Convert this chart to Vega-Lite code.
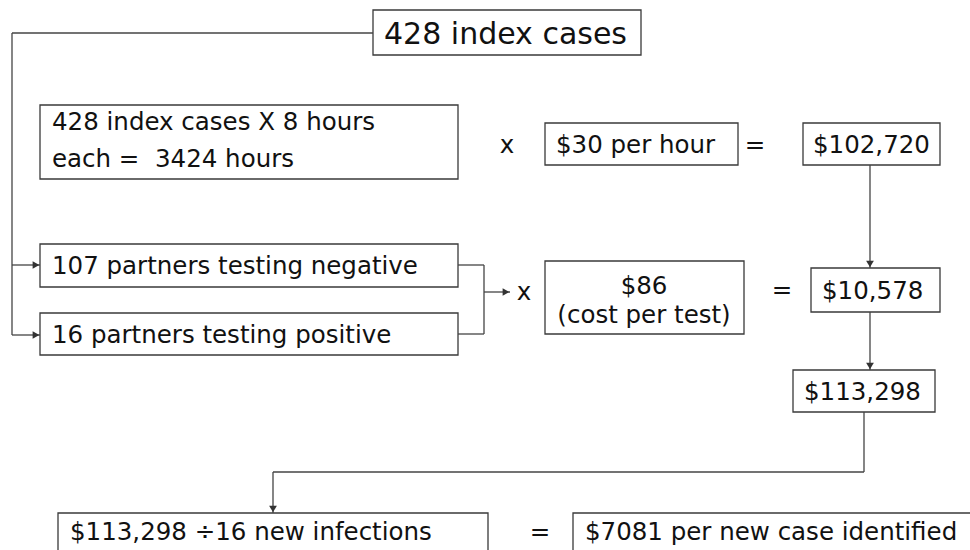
{
  "$schema": "https://vega.github.io/schema/vega-lite/v6.json",
  "width": 970,
  "height": 550,
  "padding": 0,
  "autosize": {"type": "none"},
  "background": "white",
  "config": {"view": {"stroke": null}},
  "datasets": {
    "boxes": [
      {"id": "index", "x1": 373, "x2": 641, "y1": 10, "y2": 55},
      {"id": "hours", "x1": 40, "x2": 458, "y1": 105, "y2": 179},
      {"id": "rate", "x1": 545, "x2": 738, "y1": 123, "y2": 165},
      {"id": "labour", "x1": 803, "x2": 940, "y1": 123, "y2": 165},
      {"id": "neg", "x1": 40, "x2": 458, "y1": 244, "y2": 287},
      {"id": "pos", "x1": 40, "x2": 458, "y1": 313, "y2": 355},
      {"id": "test", "x1": 545, "x2": 744, "y1": 261, "y2": 334},
      {"id": "testcost", "x1": 811, "x2": 940, "y1": 268, "y2": 312},
      {"id": "total", "x1": 793, "x2": 935, "y1": 370, "y2": 412},
      {"id": "divide", "x1": 58, "x2": 488, "y1": 513, "y2": 565},
      {"id": "result", "x1": 573, "x2": 975, "y1": 513, "y2": 565}
    ],
    "lines": [
      {"x1": 12, "y1": 33, "x2": 373, "y2": 33},
      {"x1": 12, "y1": 33, "x2": 12, "y2": 335},
      {"x1": 12, "y1": 265, "x2": 40, "y2": 265},
      {"x1": 12, "y1": 335, "x2": 40, "y2": 335},
      {"x1": 458, "y1": 265, "x2": 484, "y2": 265},
      {"x1": 484, "y1": 265, "x2": 484, "y2": 334},
      {"x1": 458, "y1": 334, "x2": 484, "y2": 334},
      {"x1": 484, "y1": 292, "x2": 510, "y2": 292},
      {"x1": 870, "y1": 165, "x2": 870, "y2": 268},
      {"x1": 870, "y1": 312, "x2": 870, "y2": 370},
      {"x1": 864, "y1": 412, "x2": 864, "y2": 472},
      {"x1": 273, "y1": 472, "x2": 864, "y2": 472},
      {"x1": 273, "y1": 472, "x2": 273, "y2": 513}
    ],
    "arrows": [
      {"x": 36, "y": 265, "dir": "right"},
      {"x": 36, "y": 335, "dir": "right"},
      {"x": 506, "y": 292, "dir": "right"},
      {"x": 870, "y": 264, "dir": "down"},
      {"x": 870, "y": 366, "dir": "down"},
      {"x": 273, "y": 509, "dir": "down"}
    ],
    "labels": [
      {"role": "title", "x": 384, "y": 44, "text": "428 index cases"},
      {"role": "left", "x": 52, "y": 130, "text": "428 index cases X 8 hours"},
      {"role": "left", "x": 52, "y": 167, "text": "each = \u00a03424 hours"},
      {"role": "center", "x": 507, "y": 153, "text": "x"},
      {"role": "left", "x": 556, "y": 153, "text": "$30 per hour"},
      {"role": "center", "x": 755, "y": 153, "text": "="},
      {"role": "left", "x": 813, "y": 153, "text": "$102,720"},
      {"role": "left", "x": 52, "y": 274, "text": "107 partners testing negative"},
      {"role": "left", "x": 52, "y": 343, "text": "16 partners testing positive"},
      {"role": "center", "x": 524, "y": 300, "text": "x"},
      {"role": "center", "x": 644, "y": 294, "text": "$86"},
      {"role": "center", "x": 644, "y": 323, "text": "(cost per test)"},
      {"role": "center", "x": 782, "y": 298, "text": "="},
      {"role": "left", "x": 822, "y": 299, "text": "$10,578"},
      {"role": "left", "x": 804, "y": 400, "text": "$113,298"},
      {"role": "left", "x": 70, "y": 540, "text": "$113,298 ÷16 new infections"},
      {"role": "center", "x": 540, "y": 540, "text": "="},
      {"role": "left", "x": 585, "y": 540, "text": "$7081 per new case identified"}
    ]
  },
  "layer": [
    {
      "data": {"name": "boxes"},
      "mark": {"type": "rect", "fill": "white", "stroke": "#3a3a3a", "strokeWidth": 1.3},
      "encoding": {
        "x": {"field": "x1", "type": "quantitative", "scale": {"domain": [0, 970], "nice": false, "zero": false}, "axis": null},
        "x2": {"field": "x2"},
        "y": {"field": "y1", "type": "quantitative", "scale": {"domain": [0, 550], "nice": false, "zero": false, "reverse": true}, "axis": null},
        "y2": {"field": "y2"}
      }
    },
    {
      "data": {"name": "lines"},
      "mark": {"type": "rule", "color": "#444444", "strokeWidth": 1.3},
      "encoding": {
        "x": {"field": "x1", "type": "quantitative", "scale": {"domain": [0, 970], "nice": false, "zero": false}, "axis": null},
        "x2": {"field": "x2"},
        "y": {"field": "y1", "type": "quantitative", "scale": {"domain": [0, 550], "nice": false, "zero": false, "reverse": true}, "axis": null},
        "y2": {"field": "y2"}
      }
    },
    {
      "data": {"name": "arrows"},
      "transform": [{"filter": "datum.dir === 'right'"}],
      "mark": {"type": "point", "shape": "triangle-right", "filled": true, "color": "#333333", "size": 60, "opacity": 1},
      "encoding": {
        "x": {"field": "x", "type": "quantitative", "scale": {"domain": [0, 970], "nice": false, "zero": false}, "axis": null},
        "y": {"field": "y", "type": "quantitative", "scale": {"domain": [0, 550], "nice": false, "zero": false, "reverse": true}, "axis": null}
      }
    },
    {
      "data": {"name": "arrows"},
      "transform": [{"filter": "datum.dir === 'down'"}],
      "mark": {"type": "point", "shape": "triangle-down", "filled": true, "color": "#333333", "size": 60, "opacity": 1},
      "encoding": {
        "x": {"field": "x", "type": "quantitative", "scale": {"domain": [0, 970], "nice": false, "zero": false}, "axis": null},
        "y": {"field": "y", "type": "quantitative", "scale": {"domain": [0, 550], "nice": false, "zero": false, "reverse": true}, "axis": null}
      }
    },
    {
      "data": {"name": "labels"},
      "transform": [{"filter": "datum.role === 'title'"}],
      "mark": {"type": "text", "align": "left", "baseline": "alphabetic", "font": "DejaVu Sans", "fontSize": 30, "color": "#111111"},
      "encoding": {
        "x": {"field": "x", "type": "quantitative", "scale": {"domain": [0, 970], "nice": false, "zero": false}, "axis": null},
        "y": {"field": "y", "type": "quantitative", "scale": {"domain": [0, 550], "nice": false, "zero": false, "reverse": true}, "axis": null},
        "text": {"field": "text"}
      }
    },
    {
      "data": {"name": "labels"},
      "transform": [{"filter": "datum.role === 'left'"}],
      "mark": {"type": "text", "align": "left", "baseline": "alphabetic", "font": "DejaVu Sans", "fontSize": 24.5, "color": "#111111"},
      "encoding": {
        "x": {"field": "x", "type": "quantitative", "scale": {"domain": [0, 970], "nice": false, "zero": false}, "axis": null},
        "y": {"field": "y", "type": "quantitative", "scale": {"domain": [0, 550], "nice": false, "zero": false, "reverse": true}, "axis": null},
        "text": {"field": "text"}
      }
    },
    {
      "data": {"name": "labels"},
      "transform": [{"filter": "datum.role === 'center'"}],
      "mark": {"type": "text", "align": "center", "baseline": "alphabetic", "font": "DejaVu Sans", "fontSize": 24.5, "color": "#111111"},
      "encoding": {
        "x": {"field": "x", "type": "quantitative", "scale": {"domain": [0, 970], "nice": false, "zero": false}, "axis": null},
        "y": {"field": "y", "type": "quantitative", "scale": {"domain": [0, 550], "nice": false, "zero": false, "reverse": true}, "axis": null},
        "text": {"field": "text"}
      }
    }
  ]
}
